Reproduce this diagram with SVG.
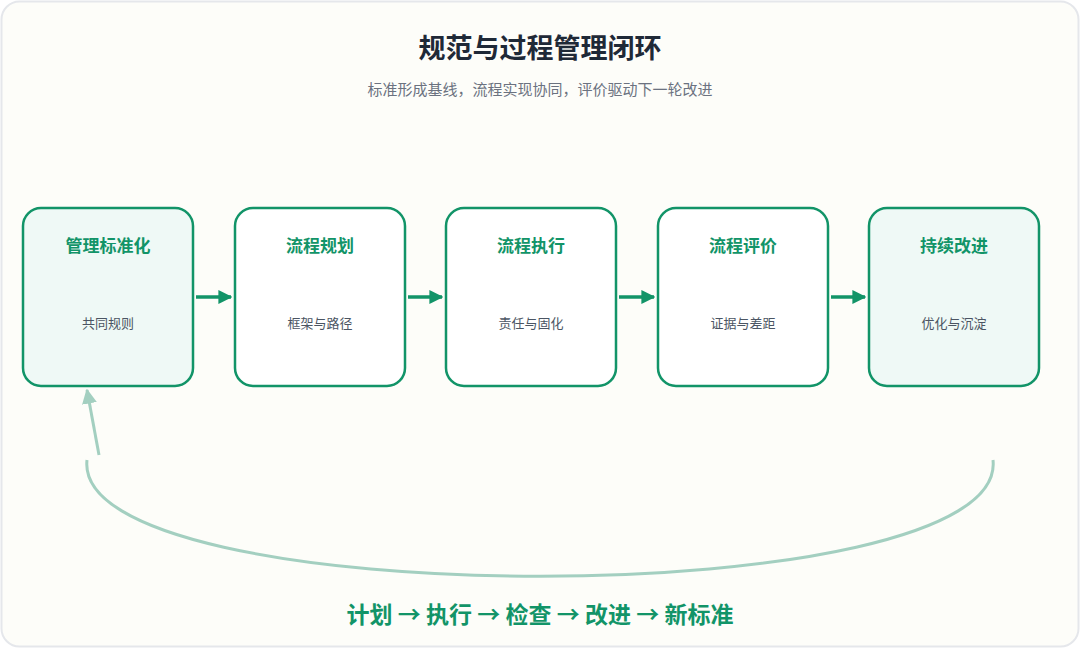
<svg xmlns="http://www.w3.org/2000/svg" width="1080" height="648" viewBox="0 0 1080 648">
<style>
text{font-family:"Noto Sans CJK SC","Noto Sans",sans-serif;text-anchor:middle}
.box{fill:#ffffff;stroke:#129468;stroke-width:2.5}
.hl{fill:#eff9f6}
.nt{font-size:17px;font-weight:bold;fill:#129468}
.ns{font-size:13px;fill:#4b5563}
.fl{stroke:#129468;stroke-width:3.5;fill:none}
.lp{stroke:#a3cfc0;stroke-width:3;fill:none}
</style>
<defs>
<marker id="ah" viewBox="0 0 10 10" refX="9" refY="5" markerWidth="4" markerHeight="4" orient="auto" markerUnits="strokeWidth"><path d="M0,0L10,5L0,10z" fill="#129468"/></marker>
<marker id="al" viewBox="0 0 10 10" refX="9" refY="5" markerWidth="5" markerHeight="5" orient="auto" markerUnits="strokeWidth"><path d="M0,0L10,5L0,10z" fill="#a3cfc0"/></marker>
</defs>
<rect x="1.5" y="1.5" width="1077" height="645" rx="18" fill="#fdfdf9" stroke="#e5e7eb" stroke-width="2"/>
<text x="540" y="58" style="font-size:27px;font-weight:bold;fill:#1f2937">规范与过程管理闭环</text>
<text x="540" y="95" style="font-size:15px;fill:#6b7280">标准形成基线，流程实现协同，评价驱动下一轮改进</text>
<g id="connectors">
<line class="fl" x1="196" y1="297" x2="231" y2="297" marker-end="url(#ah)"/>
<line class="fl" x1="408" y1="297" x2="442" y2="297" marker-end="url(#ah)"/>
<line class="fl" x1="619" y1="297" x2="654" y2="297" marker-end="url(#ah)"/>
<line class="fl" x1="831" y1="297" x2="865" y2="297" marker-end="url(#ah)"/>
<path class="lp" d="M993,460 C1010,615 70,615 87,460"/>
<line class="lp" x1="99" y1="455" x2="87" y2="390" marker-end="url(#al)"/>
</g>
<g id="n1"><rect class="box hl" x="23" y="208" width="170" height="178" rx="18"/><text class="nt" x="108" y="252">管理标准化</text><text class="ns" x="108" y="328">共同规则</text></g>
<g id="n2"><rect class="box" x="235" y="208" width="170" height="178" rx="18"/><text class="nt" x="320" y="252">流程规划</text><text class="ns" x="320" y="328">框架与路径</text></g>
<g id="n3"><rect class="box" x="446" y="208" width="170" height="178" rx="18"/><text class="nt" x="531" y="252">流程执行</text><text class="ns" x="531" y="328">责任与固化</text></g>
<g id="n4"><rect class="box" x="658" y="208" width="170" height="178" rx="18"/><text class="nt" x="743" y="252">流程评价</text><text class="ns" x="743" y="328">证据与差距</text></g>
<g id="n5"><rect class="box hl" x="869" y="208" width="170" height="178" rx="18"/><text class="nt" x="954" y="252">持续改进</text><text class="ns" x="954" y="328">优化与沉淀</text></g>
<text x="540" y="623" style="font-size:23px;font-weight:bold;fill:#129468">计划 → 执行 → 检查 → 改进 → 新标准</text>
</svg>
